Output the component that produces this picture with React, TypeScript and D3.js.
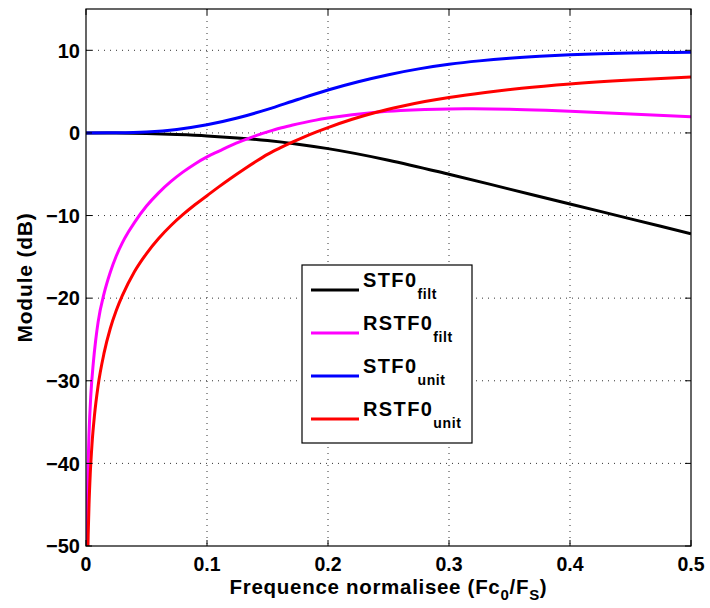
import React from 'react';
import * as d3 from 'd3';

const xTicks = [0, 0.1, 0.2, 0.3, 0.4, 0.5];
const xTickLabels = ['0', '0.1', '0.2', '0.3', '0.4', '0.5'];
const yTicks = [-50, -40, -30, -20, -10, 0, 10];
const yTickLabels = ['\u221250', '\u221240', '\u221230', '\u221220', '\u221210', '0', '10'];

// STF0 filt (black)
const stfFiltF = [0, 0.025, 0.05, 0.075, 0.1, 0.125, 0.15, 0.175, 0.2, 0.25, 0.3, 0.35, 0.4, 0.45, 0.5];
const stfFiltDb = [0, -0.02, -0.08, -0.2, -0.36, -0.6, -0.92, -1.36, -1.9, -3.3, -5.0, -6.8, -8.6, -10.4, -12.2];

// RSTF0 filt (magenta)
const rstfFiltF = [0.0006, 0.0008, 0.0012, 0.0017, 0.0025, 0.004, 0.006, 0.008, 0.01, 0.015, 0.02, 0.025, 0.03, 0.035, 0.04, 0.05, 0.06, 0.07, 0.08, 0.09, 0.1, 0.11, 0.12, 0.13, 0.14, 0.15, 0.16, 0.17, 0.18, 0.19, 0.2, 0.22, 0.24, 0.26, 0.28, 0.3, 0.32, 0.35, 0.38, 0.4, 0.45, 0.5];
const rstfFiltDb = [-52.5, -49, -44.2, -40.4, -36.4, -31.7, -27.9, -25.1, -22.9, -19.4, -16.9, -14.9, -13.3, -12.0, -10.85, -8.85, -7.25, -5.9, -4.75, -3.75, -2.9, -2.2, -1.5, -0.9, -0.35, 0.12, 0.56, 0.92, 1.25, 1.55, 1.8, 2.2, 2.5, 2.7, 2.83, 2.9, 2.92, 2.88, 2.75, 2.63, 2.3, 1.95];

// STF0 unit (blue)
const stfUnitF = [0, 0.025, 0.05, 0.075, 0.1, 0.125, 0.15, 0.175, 0.2, 0.225, 0.25, 0.275, 0.3, 0.325, 0.35, 0.375, 0.4, 0.425, 0.45, 0.475, 0.5];
const stfUnitDb = [0, 0.02, 0.12, 0.42, 0.98, 1.8, 2.85, 4.05, 5.2, 6.2, 7.05, 7.75, 8.3, 8.72, 9.04, 9.28, 9.46, 9.59, 9.67, 9.72, 9.75];

// RSTF0 unit (red)
const rstfUnitF = [0.0013, 0.0018, 0.0025, 0.0035, 0.005, 0.007, 0.01, 0.015, 0.02, 0.025, 0.03, 0.04, 0.05, 0.06, 0.07, 0.08, 0.09, 0.1, 0.11, 0.12, 0.13, 0.14, 0.15, 0.16, 0.17, 0.18, 0.19, 0.2, 0.22, 0.24, 0.26, 0.28, 0.3, 0.33, 0.36, 0.4, 0.45, 0.5];
const rstfUnitDb = [-52.4, -48.7, -45, -41.3, -37.6, -34.2, -30.6, -26.6, -23.7, -21.5, -19.7, -16.8, -14.6, -12.78, -11.24, -9.9, -8.7, -7.6, -6.5, -5.45, -4.45, -3.5, -2.6, -1.85, -1.15, -0.5, 0.1, 0.65, 1.65, 2.5, 3.2, 3.8, 4.3, 4.9, 5.4, 5.92, 6.4, 6.77];

const seriesNames = ['STF0', 'RSTF0', 'STF0', 'RSTF0'];
const seriesSubs = ['filt', 'filt', 'unit', 'unit'];
const seriesColors = ['#000000', '#ff00ff', '#0000ff', '#ff0000'];
const seriesF = [stfFiltF, rstfFiltF, stfUnitF, rstfUnitF];
const seriesDb = [stfFiltDb, rstfFiltDb, stfUnitDb, rstfUnitDb];

const W = 710;
const H = 608;
const L = 86;
const R = 691;
const T = 9;
const B = 546;

export default function App() {
  const x = d3.scaleLinear().domain([0, 0.5]).range([L, R]);
  const y = d3.scaleLinear().domain([-50, 15]).range([B, T]);
  const line = d3
    .line<[number, number]>()
    .x((d) => x(d[0]))
    .y((d) => y(d[1]))
    .curve(d3.curveMonotoneX);

  const font = '"Liberation Sans", Arial, Helvetica, sans-serif';
  const tickLen = 6;

  const legX = 302;
  const legY = 265;
  const legW = 170;
  const legH = 178;
  const rowYs = [290, 333, 376, 419];

  return (
    <svg
      width={W}
      height={H}
      style={{ position: 'absolute', left: 0, top: 0, background: '#fff' }}
      fontFamily={font}
      fontWeight="bold"
    >
      <defs>
        <clipPath id="plotClip">
          <rect x={L} y={T} width={R - L} height={B - T} />
        </clipPath>
      </defs>
      <rect x={0} y={0} width={W} height={H} fill="#fff" />
      {/* grid */}
      {xTicks.slice(1, -1).map((t) => (
        <line key={'gx' + t} x1={x(t)} x2={x(t)} y1={T} y2={B} stroke="#333" strokeWidth={1} strokeDasharray="1 5" />
      ))}
      {yTicks.slice(1).map((t) => (
        <line key={'gy' + t} x1={L} x2={R} y1={y(t)} y2={y(t)} stroke="#333" strokeWidth={1} strokeDasharray="1 5" />
      ))}
      {/* curves */}
      <g clipPath="url(#plotClip)">
        {seriesF.map((fs, i) => {
          const pts = fs.map((f, j) => [f, seriesDb[i][j]] as [number, number]);
          return (
            <path key={'s' + i} d={line(pts) || ''} fill="none" stroke={seriesColors[i]} strokeWidth={3} strokeLinejoin="round" />
          );
        })}
      </g>
      {/* axes box */}
      <rect x={L} y={T} width={R - L} height={B - T} fill="none" stroke="#000" strokeWidth={1.2} />
      {/* ticks */}
      {xTicks.map((t) => (
        <g key={'tx' + t}>
          <line x1={x(t)} x2={x(t)} y1={B} y2={B - tickLen} stroke="#000" />
          <line x1={x(t)} x2={x(t)} y1={T} y2={T + tickLen} stroke="#000" />
        </g>
      ))}
      {yTicks.map((t) => (
        <g key={'ty' + t}>
          <line x1={L} x2={L + tickLen} y1={y(t)} y2={y(t)} stroke="#000" />
          <line x1={R} x2={R - tickLen} y1={y(t)} y2={y(t)} stroke="#000" />
        </g>
      ))}
      {/* tick labels */}
      {xTicks.map((t, i) => (
        <text key={'lx' + t} x={x(t)} y={571} textAnchor="middle" fontSize={19.5}>
          {xTickLabels[i]}
        </text>
      ))}
      {yTicks.map((t, i) => (
        <text key={'ly' + t} x={80} y={y(t) + 7.2} textAnchor="end" fontSize={20}>
          {yTickLabels[i]}
        </text>
      ))}
      {/* axis labels */}
      <text x={(L + R) / 2} y={594} textAnchor="middle" fontSize={20.5} letterSpacing={0.7}>
        Frequence normalisee (Fc
        <tspan fontSize={15} dy={6}>0</tspan>
        <tspan dy={-6}>/F</tspan>
        <tspan fontSize={15} dy={6}>S</tspan>
        <tspan dy={-6}>)</tspan>
      </text>
      <text
        transform={`translate(31.5, ${(T + B) / 2}) rotate(-90)`}
        textAnchor="middle"
        fontSize={21}
        letterSpacing={0.8}
      >
        Module (dB)
      </text>
      {/* legend */}
      <rect x={legX} y={legY} width={legW} height={legH} fill="#fff" stroke="#000" strokeWidth={1.2} />
      {seriesNames.map((name, i) => (
        <g key={'leg' + i}>
          <line x1={311} x2={359} y1={rowYs[i]} y2={rowYs[i]} stroke={seriesColors[i]} strokeWidth={3} />
          <text x={363} y={rowYs[i] - 3.3} fontSize={20} letterSpacing={1.4}>
            {name}
            <tspan fontSize={14} dy={12.5} letterSpacing={0.6}>{seriesSubs[i]}</tspan>
          </text>
        </g>
      ))}
    </svg>
  );
}
